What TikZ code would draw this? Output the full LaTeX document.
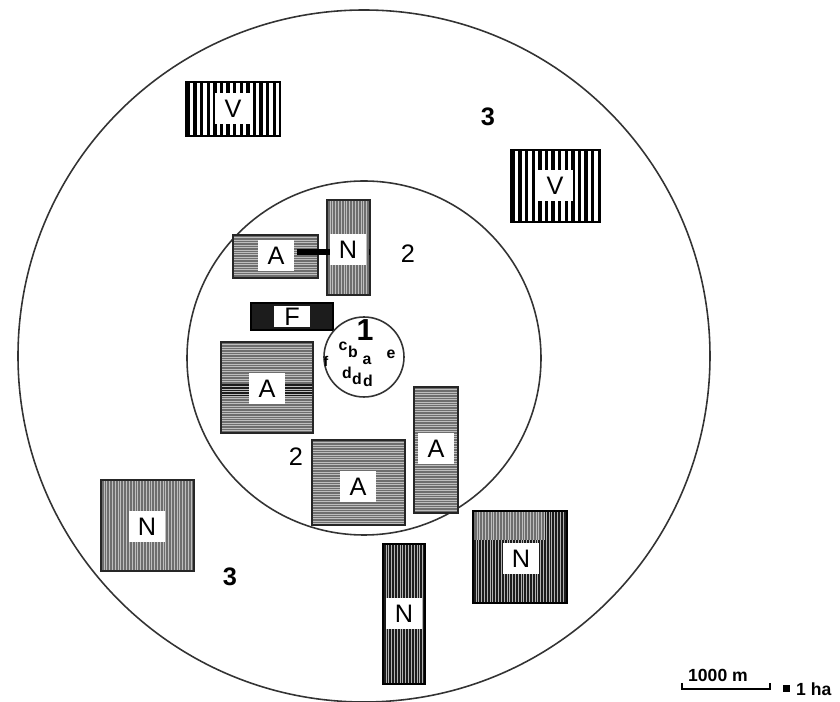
\documentclass[tikz,border=0pt]{standalone}
\usepackage{fontspec}
\setmainfont{Liberation Sans}
\usepackage{tikz}
\definecolor{plotgray}{HTML}{6E6E6E}
\definecolor{plotdark}{HTML}{1C1C1C}
\definecolor{stripe}{HTML}{BEBEBE}

\begin{document}
\begin{tikzpicture}[x=0.02cm,y=-0.02cm,font=\Large,
  ring/.style={draw=black!80,line width=0.9pt},
  plot/.style={draw=black!85,line width=1.1pt,fill=plotgray},
  dplot/.style={draw=black,line width=1.1pt,fill=plotdark},
  hstr/.style={path picture={\foreach \k in {1,...,90}
      \draw[stripe,line width=0.25pt] ([yshift=-\k*1.4pt]path picture bounding box.north west) -- ++(10cm,0);}},
  vstr/.style={path picture={\foreach \k in {1,...,90}
      \draw[#1,line width=0.25pt] ([xshift=\k*1.6pt]path picture bounding box.north west) -- ++(0,-10cm);}},
  vbar/.style={path picture={\foreach \k in {0,...,16}
      \fill[black] ([xshift=\k*3.75pt+0.5pt]path picture bounding box.north west) rectangle ++(1.9pt,-5cm);}},
  lab/.style={fill=white,inner sep=0pt,minimum width=0.74cm,minimum height=0.62cm},
  zone/.style={font=\Large\bfseries},
  let/.style={font=\small\bfseries,inner sep=0pt}]
  \useasboundingbox (0,0) rectangle (840,702);

  % zones
  \draw[ring] (364,356) circle[radius=346];
  \draw[ring] (364,358) circle[radius=177];

  % village plots
  \draw[line width=0.8pt,fill=white,vbar] (186,82) rectangle (280,136);
  \draw[line width=0.8pt,fill=white,vbar] (511,150) rectangle (600,222);
  \node[lab] (vw) at (233,109) {V};
  \node[lab] (ve) at (555,186) {V};

  % second ring
  \draw[plot,hstr] (233,235) rectangle (318,278);
  \draw[plot,vstr=stripe] (327,200) rectangle (370,295);
  \draw[line width=3pt] (297,252) -- (327,252);
  \draw[line width=3pt,dash pattern=on 4pt off 2pt] (327,252) -- (370,252);
  \node[lab] (an) at (276,256) {A};
  \node[lab] (nn) at (348,250) {N};

  \draw[dplot] (251,303) rectangle (333,330);
  \node[lab,minimum height=0.42cm] (f) at (292,317) {F};

  \draw[plot,hstr] (221,342) rectangle (313,433);
  \fill[plotdark,hstr] (222,384) rectangle (312,396);
  \node[lab] (aw) at (267,389) {A};

  \draw[plot,hstr] (414,387) rectangle (458,513);
  \node[lab] (ae) at (436,449) {A};
  \draw[plot,hstr] (312,440) rectangle (405,525);
  \node[lab] (as) at (358,487) {A};

  % outer ring
  \draw[plot,vstr=stripe] (101,480) rectangle (194,571);
  \node[lab] (nw) at (147,527) {N};
  \draw[dplot,vstr=white!70!black] (383,544) rectangle (425,684);
  \node[lab] (ns) at (404,614) {N};
  \draw[dplot,vstr=white!70!black] (473,511) rectangle (567,603);
  \fill[plotgray,vstr=stripe] (474,512) rectangle (545,540);
  \node[lab] (ne) at (521,559) {N};

  % core
  \draw[ring,fill=white] (364,357) circle[radius=40];
  \node[font=\LARGE\bfseries,inner sep=0pt] (z1) at (365,330) {1};
  \node[let] (c) at (343,346) {c};
  \node[let] (b) at (353,352) {b};
  \node[let] (a) at (367,360) {a};
  \node[let] (e) at (391,354) {e};
  \node[let,font=\footnotesize\bfseries] (f0) at (326,361) {f};
  \node[let] (d1) at (347,373) {d};
  \node[let] (d2) at (357,379) {d};
  \node[let] (d3) at (368,381) {d};

  \node[zone] (z3a) at (488,117) {3};
  \node[zone] (z3b) at (230,577) {3};
  \node[font=\Large] (z2a) at (408,254) {2};
  \node[font=\Large] (z2b) at (296,457) {2};

  % scale
  \coordinate (sl) at (682,689);
  \coordinate (sr) at (770,689);
  \draw[line width=0.8pt] (sl) ++(0,-6) -- (sl) -- (sr) -- ++(0,-6);
  \node[font=\normalsize\bfseries] (km) at (718,675) {1000 m};
  \fill (783,685) rectangle (790,692);
  \node[font=\normalsize\bfseries,anchor=west] (ha) at (790,689) {1 ha};
\end{tikzpicture}
\end{document}
